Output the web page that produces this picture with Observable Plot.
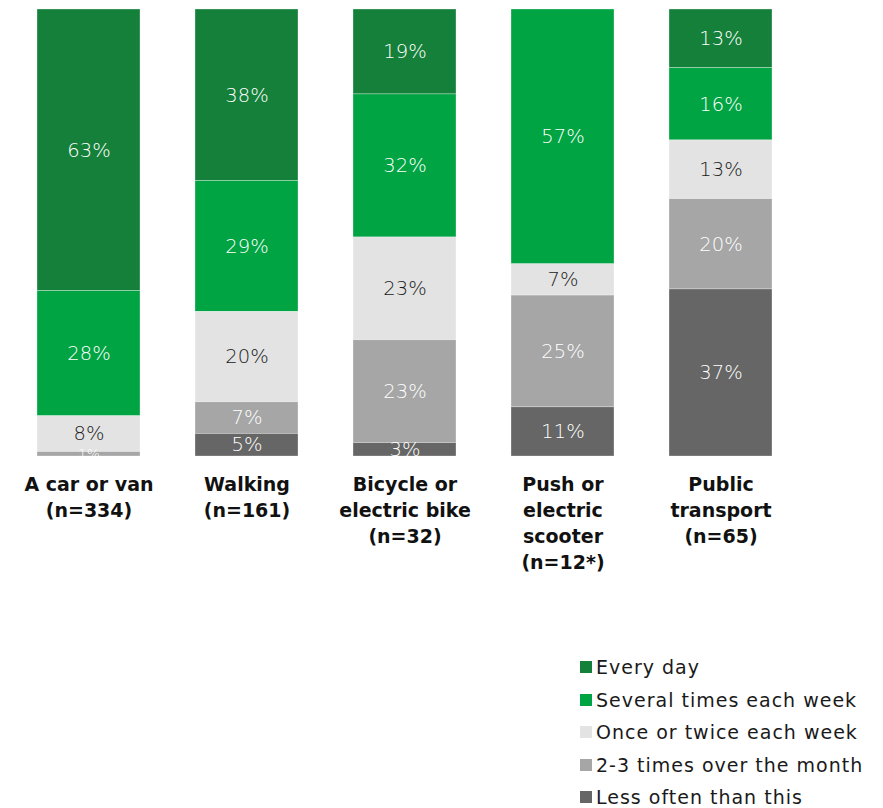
<!DOCTYPE html>
<html>
<head>
<meta charset="utf-8">
<script src="https://cdn.jsdelivr.net/npm/d3@7"></script>
<script src="https://cdn.jsdelivr.net/npm/@observablehq/plot@0.6"></script>
<style>
  html, body { margin: 0; padding: 0; background: #fff; }
  body { width: 883px; height: 808px; overflow: hidden; font-family: "DejaVu Sans", sans-serif; }
  #legend { margin: 51px 0 0 580px; padding: 0; list-style: none; }
  #legend li { height: 32.5px; display: flex; align-items: center; font-size: 19px; letter-spacing: 1px; color: #1a1a1a; white-space: nowrap; }
  #legend .sw { width: 12px; height: 12px; margin-right: 4px; flex: none; }
</style>
</head>
<body>
<div id="chart"></div>
<ul id="legend"></ul>
<script>
const categories = [
  "A car or van\n(n=334)",
  "Walking\n(n=161)",
  "Bicycle or\nelectric bike\n(n=32)",
  "Push or\nelectric\nscooter\n(n=12*)",
  "Public\ntransport\n(n=65)"
];
const frequencies = [
  "Every day",
  "Several times each week",
  "Once or twice each week",
  "2-3 times over the month",
  "Less often than this"
];
const colors = ["#15803a", "#00a443", "#e3e3e3", "#a6a6a6", "#666666"];
const labelColors = ["#ffffff", "#ffffff", "#1a1a1a", "#ffffff", "#ffffff"];

const everyDay   = [63, 38, 19, 0, 13];
const several    = [28, 29, 32, 57, 16];
const onceTwice  = [8, 20, 23, 7, 13];
const twoThree   = [1, 7, 23, 25, 20];
const lessOften  = [0, 5, 3, 11, 37];

const series = [everyDay, several, onceTwice, twoThree, lessOften];
const data = [];
series.forEach((vals, si) => {
  vals.forEach((v, ci) => {
    data.push({category: categories[ci], freq: frequencies[si], value: v});
  });
});
const stackOrder = frequencies.slice().reverse();
const labelFill = new Map(frequencies.map((f, i) => [f, labelColors[i]]));

const chart = Plot.plot({
  width: 883,
  height: 600,
  marginTop: 9,
  marginBottom: 144,
  marginLeft: 35,
  marginRight: 109.5,
  style: {fontFamily: "DejaVu Sans, sans-serif", background: "#fff"},
  x: {domain: categories, paddingInner: 0.35, paddingOuter: 0, axis: null},
  y: {axis: null},
  color: {domain: frequencies, range: colors},
  marks: [
    Plot.barY(data, Plot.stackY({
      x: "category", y: "value", fill: "freq", z: "freq",
      order: stackOrder, offset: "normalize",
      stroke: "#ffffff", strokeWidth: 0.6, strokeOpacity: 0.5
    })),
    Plot.text(data.filter(d => d.value > 0), Plot.stackY({
      x: "category", y: "value", z: "freq",
      order: stackOrder, offset: "normalize",
      text: d => d.value + "%",
      fill: d => labelFill.get(d.freq),
      fontSize: d => d.value <= 1 ? 14 : 19.5,
      fontWeight: 300, letterSpacing: 0.5,
      clip: "frame"
    })),
    Plot.axisX({
      anchor: "bottom", tickSize: 0, tickPadding: 16,
      fontSize: 19, fontWeight: "bold", lineHeight: 1.37,
      fill: "#111", label: null
    })
  ]
});
document.getElementById("chart").appendChild(chart);

const legend = document.getElementById("legend");
frequencies.forEach((f, i) => {
  const li = document.createElement("li");
  const sw = document.createElement("span");
  sw.className = "sw";
  sw.style.background = colors[i];
  li.appendChild(sw);
  li.appendChild(document.createTextNode(f));
  legend.appendChild(li);
});
</script>
</body>
</html>
